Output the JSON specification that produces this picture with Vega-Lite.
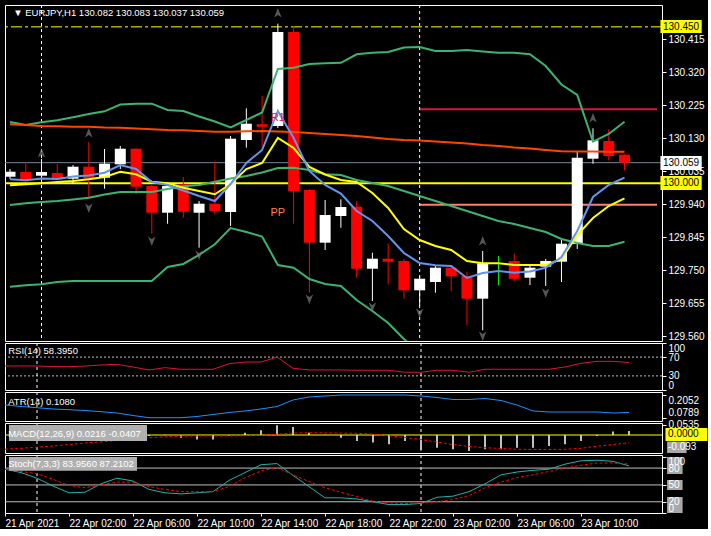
{
"$schema":"https://vega.github.io/schema/vega-lite/v6.json",
"background":"#000000",
"padding":{"left":3,"top":4,"right":0,"bottom":0},
"bounds":"flush",
"spacing":2,
"config":{"view":{"stroke":"#ffffff","strokeWidth":1},"axis":{"labelColor":"#ffffff","labelFont":"Liberation Sans","labelFontSize":10,"tickColor":"#ffffff","tickSize":4,"domain":false,"grid":false,"labelPadding":2},"text":{"font":"Liberation Sans"}},
"datasets":{
"bars":[
{"k":0,"t":"21 Apr 22:00","o":130.0186,"h":130.0408,"l":130.012,"c":130.033,"ema":130.1695,"bbu":130.1761,"bbm":129.9372,"bbl":129.702,"fast":130.0112,"slow":129.9939,"rsi":51.1,"atr":0.1496,"macd":-0.004,"sig":-0.075,"stk":78,"std":78},
{"k":1,"t":"21 Apr 23:00","o":130.0322,"h":130.061,"l":130.0091,"c":130.0112,"ema":130.1675,"bbu":130.1675,"bbm":129.9421,"bbl":129.706,"fast":130.0083,"slow":129.9968,"rsi":51.1,"atr":0.1412,"macd":-0.0316,"sig":-0.07,"stk":72,"std":74},
{"k":2,"t":"22 Apr 00:00","o":130.0215,"h":130.0696,"l":130.0149,"c":130.0322,"ema":130.1646,"bbu":130.1755,"bbm":129.9458,"bbl":129.7089,"fast":130.0135,"slow":129.9997,"rsi":51,"atr":0.1345,"macd":-0.002,"sig":-0.064,"stk":62,"std":70},
{"k":3,"t":"22 Apr 01:00","o":130.0293,"h":130.0552,"l":130.0091,"c":130.0112,"ema":130.1637,"bbu":130.181,"bbm":129.9487,"bbl":129.7155,"fast":130.012,"slow":130.0034,"rsi":50,"atr":0.1273,"macd":0.002,"sig":-0.058,"stk":48,"std":60},
{"k":4,"t":"22 Apr 02:00","o":130.0129,"h":130.0523,"l":129.9976,"c":130.0474,"ema":130.1626,"bbu":130.1896,"bbm":129.953,"bbl":129.7184,"fast":130.0192,"slow":130.0063,"rsi":49.6,"atr":0.1234,"macd":-0.003,"sig":-0.05,"stk":36,"std":49},
{"k":5,"t":"22 Apr 03:00","o":130.0474,"h":130.1185,"l":129.9582,"c":130.0129,"ema":130.1626,"bbu":130.1991,"bbm":129.9582,"bbl":129.7184,"fast":130.0221,"slow":130.0112,"rsi":51,"atr":0.119,"macd":0.003,"sig":-0.042,"stk":37,"std":45},
{"k":6,"t":"22 Apr 04:00","o":130.0158,"h":130.0984,"l":129.9841,"c":130.0561,"ema":130.1603,"bbu":130.2069,"bbm":129.9674,"bbl":129.7184,"fast":130.0302,"slow":130.0178,"rsi":53.2,"atr":0.1123,"macd":-0.002,"sig":-0.036,"stk":52,"std":50},
{"k":7,"t":"22 Apr 05:00","o":130.0543,"h":130.107,"l":130.0408,"c":130.0992,"ema":130.1597,"bbu":130.2265,"bbm":129.9746,"bbl":129.7184,"fast":130.0523,"slow":130.0331,"rsi":54.6,"atr":0.105,"macd":0.004,"sig":-0.029,"stk":62,"std":55},
{"k":8,"t":"22 Apr 06:00","o":130.0992,"h":130.1012,"l":129.9688,"c":129.9899,"ema":130.1574,"bbu":130.2288,"bbm":129.9746,"bbl":129.7184,"fast":130.0408,"slow":130.0256,"rsi":49,"atr":0.0911,"macd":-0.003,"sig":-0.02,"stk":57,"std":55},
{"k":9,"t":"22 Apr 07:00","o":129.9919,"h":129.9948,"l":129.8546,"c":129.915,"ema":130.1551,"bbu":130.2288,"bbm":129.9746,"bbl":129.7184,"fast":130.0034,"slow":130.0043,"rsi":42.6,"atr":0.0789,"macd":-0.005,"sig":-0.014,"stk":42,"std":47},
{"k":10,"t":"22 Apr 08:00","o":129.915,"h":129.9976,"l":129.8833,"c":129.9919,"ema":130.1531,"bbu":130.2106,"bbm":129.9832,"bbl":129.7587,"fast":129.9948,"slow":129.9997,"rsi":47.5,"atr":0.0789,"macd":0.002,"sig":-0.01,"stk":36,"std":42},
{"k":11,"t":"22 Apr 09:00","o":129.9968,"h":130.0178,"l":129.9006,"c":129.9179,"ema":130.1522,"bbu":130.2078,"bbm":129.991,"bbl":129.7674,"fast":129.9789,"slow":129.987,"rsi":44.1,"atr":0.0789,"macd":-0.014,"sig":-0.006,"stk":34,"std":38},
{"k":12,"t":"22 Apr 10:00","o":129.915,"h":129.9487,"l":129.8143,"c":129.9409,"ema":130.1502,"bbu":130.1919,"bbm":129.9948,"bbl":129.7933,"fast":129.9631,"slow":129.9775,"rsi":44.1,"atr":0.0856,"macd":-0.023,"sig":-0.005,"stk":36,"std":38},
{"k":13,"t":"22 Apr 11:00","o":129.9409,"h":130.061,"l":129.9104,"c":129.9199,"ema":130.1482,"bbu":130.1775,"bbm":130.0043,"bbl":129.8241,"fast":129.9487,"slow":129.968,"rsi":44.1,"atr":0.0967,"macd":-0.023,"sig":-0.005,"stk":38,"std":38},
{"k":14,"t":"22 Apr 12:00","o":129.917,"h":130.1358,"l":129.8767,"c":130.128,"ema":130.1482,"bbu":130.1603,"bbm":130.0135,"bbl":129.871,"fast":129.9976,"slow":129.9976,"rsi":55.9,"atr":0.1078,"macd":-0.003,"sig":-0.005,"stk":58,"std":47},
{"k":15,"t":"22 Apr 13:00","o":130.1243,"h":130.2155,"l":130.1021,"c":130.1712,"ema":130.1493,"bbu":130.1819,"bbm":130.0207,"bbl":129.8595,"fast":130.0581,"slow":130.0408,"rsi":59.5,"atr":0.1162,"macd":0.012,"sig":-0.004,"stk":72,"std":63},
{"k":16,"t":"22 Apr 14:00","o":130.1695,"h":130.2509,"l":130.1021,"c":130.1626,"ema":130.1502,"bbu":130.2034,"bbm":130.0307,"bbl":129.8465,"fast":130.0955,"slow":130.0581,"rsi":59.5,"atr":0.1273,"macd":0.025,"sig":-0.002,"stk":86,"std":75},
{"k":17,"t":"22 Apr 15:00","o":130.1646,"h":130.4591,"l":130.1588,"c":130.4352,"ema":130.1487,"bbu":130.3287,"bbm":130.0437,"bbl":129.7645,"fast":130.2078,"slow":130.1301,"rsi":70,"atr":0.1412,"macd":0.051,"sig":0.004,"stk":88,"std":81},
{"k":18,"t":"22 Apr 16:00","o":130.4352,"h":130.4524,"l":129.8833,"c":129.9775,"ema":130.1473,"bbu":130.3324,"bbm":130.0446,"bbl":129.7567,"fast":130.1301,"slow":130.1013,"rsi":46.2,"atr":0.1774,"macd":0.042,"sig":0.01,"stk":67,"std":68},
{"k":19,"t":"22 Apr 17:00","o":129.9804,"h":129.9833,"l":129.6847,"c":129.8287,"ema":130.1444,"bbu":130.3431,"bbm":130.0379,"bbl":129.7242,"fast":130.0351,"slow":130.0466,"rsi":42.6,"atr":0.1941,"macd":0.012,"sig":0.012,"stk":47,"std":56},
{"k":20,"t":"22 Apr 18:00","o":129.8287,"h":129.9516,"l":129.8077,"c":129.9084,"ema":130.1416,"bbu":130.3451,"bbm":130.0256,"bbl":129.7098,"fast":129.9948,"slow":130.025,"rsi":42.6,"atr":0.1996,"macd":0.002,"sig":0.011,"stk":27,"std":45},
{"k":21,"t":"22 Apr 19:00","o":129.9055,"h":129.9536,"l":129.8718,"c":129.9314,"ema":130.1387,"bbu":130.3465,"bbm":130.0235,"bbl":129.704,"fast":129.9703,"slow":130.0091,"rsi":42.6,"atr":0.2052,"macd":-0.014,"sig":0.01,"stk":27,"std":37},
{"k":22,"t":"22 Apr 20:00","o":129.9323,"h":129.9487,"l":129.7279,"c":129.7538,"ema":130.1358,"bbu":130.371,"bbm":130.0091,"bbl":129.6637,"fast":129.9199,"slow":130.0034,"rsi":42,"atr":0.2052,"macd":-0.032,"sig":0.009,"stk":25,"std":29},
{"k":23,"t":"22 Apr 21:00","o":129.7538,"h":129.7999,"l":129.6608,"c":129.7826,"ema":130.1315,"bbu":130.3756,"bbm":130.0005,"bbl":129.6321,"fast":129.8911,"slow":129.9717,"rsi":42,"atr":0.2052,"macd":-0.04,"sig":0.005,"stk":20,"std":21},
{"k":24,"t":"22 Apr 22:00","o":129.7826,"h":129.8258,"l":129.7089,"c":129.774,"ema":130.1272,"bbu":130.3776,"bbm":129.9919,"bbl":129.5975,"fast":129.8479,"slow":129.9286,"rsi":42,"atr":0.2052,"macd":-0.049,"sig":-0.004,"stk":15,"std":18},
{"k":25,"t":"22 Apr 23:00","o":129.776,"h":129.7817,"l":129.6675,"c":129.6916,"ema":130.1243,"bbu":130.3906,"bbm":129.9775,"bbl":129.5515,"fast":129.799,"slow":129.8681,"rsi":37.8,"atr":0.2052,"macd":-0.032,"sig":-0.013,"stk":15,"std":17},
{"k":26,"t":"23 Apr 00:00","o":129.6916,"h":129.7328,"l":129.6465,"c":129.725,"ema":130.1229,"bbu":130.392,"bbm":129.9631,"bbl":129.5112,"fast":129.7702,"slow":129.8364,"rsi":37.8,"atr":0.1996,"macd":-0.081,"sig":-0.024,"stk":17,"std":18},
{"k":27,"t":"23 Apr 01:00","o":129.7155,"h":129.7645,"l":129.6847,"c":129.7567,"ema":130.12,"bbu":130.3805,"bbm":129.9487,"bbl":null,"fast":129.7636,"slow":129.8192,"rsi":42,"atr":0.1913,"macd":-0.067,"sig":-0.037,"stk":28,"std":20},
{"k":28,"t":"23 Apr 02:00","o":129.7567,"h":129.7616,"l":129.6896,"c":129.7319,"ema":130.1171,"bbu":130.3805,"bbm":129.9343,"bbl":null,"fast":129.7616,"slow":129.8077,"rsi":42,"atr":0.1802,"macd":-0.075,"sig":-0.05,"stk":30,"std":24},
{"k":29,"t":"23 Apr 03:00","o":129.7328,"h":129.7452,"l":129.5918,"c":129.6675,"ema":130.1142,"bbu":130.3834,"bbm":129.9199,"bbl":null,"fast":129.7271,"slow":129.776,"rsi":37.8,"atr":0.1802,"macd":-0.084,"sig":-0.06,"stk":38,"std":31},
{"k":30,"t":"23 Apr 04:00","o":129.6675,"h":129.8048,"l":129.5765,"c":129.7694,"ema":130.1099,"bbu":130.379,"bbm":129.9055,"bbl":null,"fast":129.7415,"slow":129.7694,"rsi":44.1,"atr":0.1857,"macd":-0.075,"sig":-0.067,"stk":52,"std":45},
{"k":31,"t":"23 Apr 05:00","o":129.7501,"h":129.7904,"l":129.706,"c":129.7501,"ema":130.107,"bbu":130.3756,"bbm":129.8911,"bbl":null,"fast":129.7472,"slow":129.7694,"rsi":44.1,"atr":0.1746,"macd":-0.075,"sig":-0.071,"stk":68,"std":55},
{"k":32,"t":"23 Apr 06:00","o":129.776,"h":129.797,"l":129.7184,"c":129.725,"ema":130.1027,"bbu":130.3756,"bbm":129.8825,"bbl":null,"fast":129.7423,"slow":129.7645,"rsi":44.1,"atr":0.1496,"macd":-0.067,"sig":-0.075,"stk":73,"std":63},
{"k":33,"t":"23 Apr 07:00","o":129.7279,"h":129.7674,"l":129.7069,"c":129.7567,"ema":130.0998,"bbu":130.371,"bbm":129.871,"bbl":null,"fast":129.7458,"slow":129.7645,"rsi":44.1,"atr":0.1162,"macd":-0.067,"sig":-0.076,"stk":76,"std":68},
{"k":34,"t":"23 Apr 08:00","o":129.7596,"h":129.7817,"l":129.704,"c":129.776,"ema":130.0955,"bbu":130.3373,"bbm":129.8595,"bbl":null,"fast":129.7567,"slow":129.7645,"rsi":44.1,"atr":0.1106,"macd":-0.058,"sig":-0.076,"stk":78,"std":74},
{"k":35,"t":"23 Apr 09:00","o":129.774,"h":129.8393,"l":129.7155,"c":129.8258,"ema":130.092,"bbu":130.284,"bbm":129.8393,"bbl":null,"fast":129.7875,"slow":129.7809,"rsi":49,"atr":0.1106,"macd":-0.049,"sig":-0.075,"stk":87,"std":80},
{"k":36,"t":"23 Apr 10:00","o":129.8249,"h":130.0926,"l":129.8105,"c":130.0733,"ema":130.0912,"bbu":130.2538,"bbm":129.8278,"bbl":null,"fast":129.8624,"slow":129.8508,"rsi":56.7,"atr":0.1106,"macd":-0.032,"sig":-0.07,"stk":93,"std":85},
{"k":37,"t":"23 Apr 11:00","o":130.0705,"h":130.158,"l":130.0561,"c":130.1234,"ema":130.0912,"bbu":130.1194,"bbm":129.8192,"bbl":null,"fast":129.9602,"slow":129.8998,"rsi":61,"atr":0.1106,"macd":-0.005,"sig":-0.059,"stk":94,"std":89},
{"k":38,"t":"23 Apr 12:00","o":130.1214,"h":130.1551,"l":130.0659,"c":130.0782,"ema":130.0906,"bbu":130.1416,"bbm":129.8192,"bbl":null,"fast":129.9948,"slow":129.9343,"rsi":61,"atr":0.105,"macd":0.018,"sig":-0.05,"stk":92,"std":89},
{"k":39,"t":"23 Apr 13:00","o":130.082,"h":130.083,"l":130.037,"c":130.059,"ema":130.0906,"bbu":130.177,"bbm":129.8316,"bbl":null,"fast":130.0158,"slow":129.9565,"rsi":58.395,"atr":0.108,"macd":0.0216,"sig":-0.0407,"stk":83.956,"std":87.2102}
],
"fr":[
{"k":2,"p":130.0869,"dir":"up"},{"k":5,"p":130.1444,"dir":"up"},{"k":17,"p":130.4899,"dir":"up"},{"k":30,"p":129.8336,"dir":"up"},{"k":37,"p":130.1876,"dir":"up"},
{"k":5,"p":129.9286,"dir":"down"},{"k":9,"p":129.8336,"dir":"down"},{"k":12,"p":129.7933,"dir":"down"},{"k":19,"p":129.6666,"dir":"down"},{"k":23,"p":129.6436,"dir":"down"},{"k":26,"p":129.6263,"dir":"down"},{"k":30,"p":129.5601,"dir":"down"},{"k":34,"p":129.6839,"dir":"down"}
]
},
"vconcat":[
{
"width":657,"height":336,
"data":{"name":"bars"},
"layer":[
{"data":{"values":[{}]},"mark":{"type":"rule","color":"#ffff00","strokeWidth":1,"strokeDash":[11,3,3,3]},"encoding":{"y":{"datum":130.45,"type":"quantitative","scale":{"domain":[129.5457,130.5129],"nice":false,"zero":false},"axis":{"orient":"right","values":[129.56,129.655,129.75,129.845,129.94,130.035,130.13,130.225,130.32,130.415],"format":".3f","title":null}}}},
{"data":{"values":[{}]},"mark":{"type":"rule","color":"#778899","strokeWidth":1},"encoding":{"y":{"datum":130.059,"type":"quantitative","scale":{"domain":[129.5457,130.5129],"nice":false,"zero":false},"axis":{"orient":"right","values":[129.56,129.655,129.75,129.845,129.94,130.035,130.13,130.225,130.32,130.415],"format":".3f","title":null}}}},
{"data":{"values":[{}]},"mark":{"type":"rule","color":"#ffff00","strokeWidth":2},"encoding":{"y":{"datum":130.0,"type":"quantitative","scale":{"domain":[129.5457,130.5129],"nice":false,"zero":false},"axis":{"orient":"right","values":[129.56,129.655,129.75,129.845,129.94,130.035,130.13,130.225,130.32,130.415],"format":".3f","title":null}}}},
{"data":{"values":[{}]},"mark":{"type":"rule","color":"#dc143c","strokeWidth":2,"clip":true},"encoding":{"x":{"datum":26,"type":"quantitative","scale":{"domain":[0,41.0625],"nice":false,"zero":false},"axis":null},"x2":{"datum":41.0625},"y":{"datum":130.213,"type":"quantitative","scale":{"domain":[129.5457,130.5129],"nice":false,"zero":false},"axis":{"orient":"right","values":[129.56,129.655,129.75,129.845,129.94,130.035,130.13,130.225,130.32,130.415],"format":".3f","title":null}}}},
{"data":{"values":[{}]},"mark":{"type":"rule","color":"#fa8072","strokeWidth":2,"clip":true},"encoding":{"x":{"datum":26,"type":"quantitative","scale":{"domain":[0,41.0625],"nice":false,"zero":false},"axis":null},"x2":{"datum":41.0625},"y":{"datum":129.938,"type":"quantitative","scale":{"domain":[129.5457,130.5129],"nice":false,"zero":false},"axis":{"orient":"right","values":[129.56,129.655,129.75,129.845,129.94,130.035,130.13,130.225,130.32,130.415],"format":".3f","title":null}}}},
{"data":{"values":[{}]},"mark":{"type":"rule","color":"#ffffff","strokeWidth":1,"strokeDash":[3,3]},"encoding":{"x":{"datum":2,"type":"quantitative","scale":{"domain":[0,41.0625],"nice":false,"zero":false},"axis":null}}},
{"data":{"values":[{}]},"mark":{"type":"rule","color":"#ffffff","strokeWidth":1,"strokeDash":[3,3]},"encoding":{"x":{"datum":26,"type":"quantitative","scale":{"domain":[0,41.0625],"nice":false,"zero":false},"axis":null}}},
{"mark":{"type":"rule","strokeWidth":1,"clip":true},"encoding":{"x":{"field":"k","type":"quantitative","scale":{"domain":[0,41.0625],"nice":false,"zero":false},"axis":null},"y":{"field":"l","type":"quantitative","scale":{"domain":[129.5457,130.5129],"nice":false,"zero":false},"axis":{"orient":"right","values":[129.56,129.655,129.75,129.845,129.94,130.035,130.13,130.225,130.32,130.415],"format":".3f","title":null}},"y2":{"field":"h"},"color":{"condition":[{"test":"datum.c > datum.o","value":"#ffffff"},{"test":"datum.c == datum.o","value":"#00ff00"}],"value":"#ff0000"}}},
{"mark":{"type":"bar","size":11,"clip":true},"encoding":{"x":{"field":"k","type":"quantitative","scale":{"domain":[0,41.0625],"nice":false,"zero":false},"axis":null},"y":{"field":"o","type":"quantitative","scale":{"domain":[129.5457,130.5129],"nice":false,"zero":false},"axis":{"orient":"right","values":[129.56,129.655,129.75,129.845,129.94,130.035,130.13,130.225,130.32,130.415],"format":".3f","title":null}},"y2":{"field":"c"},"color":{"condition":[{"test":"datum.c > datum.o","value":"#ffffff"},{"test":"datum.c == datum.o","value":"#00ff00"}],"value":"#ff0000"}}},
{"mark":{"type":"line","color":"#3cb371","strokeWidth":2,"clip":true},"encoding":{"x":{"field":"k","type":"quantitative","scale":{"domain":[0,41.0625],"nice":false,"zero":false},"axis":null},"y":{"field":"bbu","type":"quantitative","scale":{"domain":[129.5457,130.5129],"nice":false,"zero":false},"axis":{"orient":"right","values":[129.56,129.655,129.75,129.845,129.94,130.035,130.13,130.225,130.32,130.415],"format":".3f","title":null}}}},
{"mark":{"type":"line","color":"#3cb371","strokeWidth":2,"clip":true},"encoding":{"x":{"field":"k","type":"quantitative","scale":{"domain":[0,41.0625],"nice":false,"zero":false},"axis":null},"y":{"field":"bbm","type":"quantitative","scale":{"domain":[129.5457,130.5129],"nice":false,"zero":false},"axis":{"orient":"right","values":[129.56,129.655,129.75,129.845,129.94,130.035,130.13,130.225,130.32,130.415],"format":".3f","title":null}}}},
{"mark":{"type":"line","color":"#3cb371","strokeWidth":2,"clip":true},"encoding":{"x":{"field":"k","type":"quantitative","scale":{"domain":[0,41.0625],"nice":false,"zero":false},"axis":null},"y":{"field":"bbl","type":"quantitative","scale":{"domain":[129.5457,130.5129],"nice":false,"zero":false},"axis":{"orient":"right","values":[129.56,129.655,129.75,129.845,129.94,130.035,130.13,130.225,130.32,130.415],"format":".3f","title":null}}}},
{"mark":{"type":"line","color":"#ff4500","strokeWidth":2,"clip":true},"encoding":{"x":{"field":"k","type":"quantitative","scale":{"domain":[0,41.0625],"nice":false,"zero":false},"axis":null},"y":{"field":"ema","type":"quantitative","scale":{"domain":[129.5457,130.5129],"nice":false,"zero":false},"axis":{"orient":"right","values":[129.56,129.655,129.75,129.845,129.94,130.035,130.13,130.225,130.32,130.415],"format":".3f","title":null}}}},
{"mark":{"type":"line","color":"#ffff00","strokeWidth":2,"clip":true},"encoding":{"x":{"field":"k","type":"quantitative","scale":{"domain":[0,41.0625],"nice":false,"zero":false},"axis":null},"y":{"field":"slow","type":"quantitative","scale":{"domain":[129.5457,130.5129],"nice":false,"zero":false},"axis":{"orient":"right","values":[129.56,129.655,129.75,129.845,129.94,130.035,130.13,130.225,130.32,130.415],"format":".3f","title":null}}}},
{"mark":{"type":"line","color":"#6495ed","strokeWidth":2,"clip":true},"encoding":{"x":{"field":"k","type":"quantitative","scale":{"domain":[0,41.0625],"nice":false,"zero":false},"axis":null},"y":{"field":"fast","type":"quantitative","scale":{"domain":[129.5457,130.5129],"nice":false,"zero":false},"axis":{"orient":"right","values":[129.56,129.655,129.75,129.845,129.94,130.035,130.13,130.225,130.32,130.415],"format":".3f","title":null}}}},
{"data":{"name":"fr"},"transform":[{"filter":"datum.dir == 'up'"}],"mark":{"type":"point","shape":"M0,-1L0.75,0.9L0,0.4L-0.75,0.9Z","filled":true,"size":100,"color":"#7a7a7a","clip":true},"encoding":{"x":{"field":"k","type":"quantitative","scale":{"domain":[0,41.0625],"nice":false,"zero":false},"axis":null},"y":{"field":"p","type":"quantitative","scale":{"domain":[129.5457,130.5129],"nice":false,"zero":false},"axis":{"orient":"right","values":[129.56,129.655,129.75,129.845,129.94,130.035,130.13,130.225,130.32,130.415],"format":".3f","title":null}}}},
{"data":{"name":"fr"},"transform":[{"filter":"datum.dir == 'down'"}],"mark":{"type":"point","shape":"M0,1L0.75,-0.9L0,-0.4L-0.75,-0.9Z","filled":true,"size":100,"color":"#7a7a7a","clip":true},"encoding":{"x":{"field":"k","type":"quantitative","scale":{"domain":[0,41.0625],"nice":false,"zero":false},"axis":null},"y":{"field":"p","type":"quantitative","scale":{"domain":[129.5457,130.5129],"nice":false,"zero":false},"axis":{"orient":"right","values":[129.56,129.655,129.75,129.845,129.94,130.035,130.13,130.225,130.32,130.415],"format":".3f","title":null}}}},
{"data":{"values":[{}]},"mark":{"type":"text","text":"▼ EURJPY,H1  130.082 130.083 130.037 130.059","color":"#ffffff","fontSize":9.5,"align":"left","baseline":"middle"},"encoding":{"x":{"datum":0.2,"type":"quantitative","scale":{"domain":[0,41.0625],"nice":false,"zero":false},"axis":null},"y":{"datum":130.4899,"type":"quantitative","scale":{"domain":[129.5457,130.5129],"nice":false,"zero":false},"axis":{"orient":"right","values":[129.56,129.655,129.75,129.845,129.94,130.035,130.13,130.225,130.32,130.415],"format":".3f","title":null}}}},
{"data":{"values":[{}]},"mark":{"type":"text","text":"R1","color":"#dc143c","fontSize":11,"align":"center","baseline":"middle"},"encoding":{"x":{"datum":17,"type":"quantitative","scale":{"domain":[0,41.0625],"nice":false,"zero":false},"axis":null},"y":{"datum":130.188,"type":"quantitative","scale":{"domain":[129.5457,130.5129],"nice":false,"zero":false},"axis":{"orient":"right","values":[129.56,129.655,129.75,129.845,129.94,130.035,130.13,130.225,130.32,130.415],"format":".3f","title":null}}}},
{"data":{"values":[{}]},"mark":{"type":"text","text":"PP","color":"#ff7f50","fontSize":11,"align":"center","baseline":"middle"},"encoding":{"x":{"datum":17,"type":"quantitative","scale":{"domain":[0,41.0625],"nice":false,"zero":false},"axis":null},"y":{"datum":129.914,"type":"quantitative","scale":{"domain":[129.5457,130.5129],"nice":false,"zero":false},"axis":{"orient":"right","values":[129.56,129.655,129.75,129.845,129.94,130.035,130.13,130.225,130.32,130.415],"format":".3f","title":null}}}},
{"data":{"values":[{}]},"mark":{"type":"rect","color":"#ffff00"},"encoding":{"x":{"datum":41.28,"type":"quantitative","scale":{"domain":[0,41.0625],"nice":false,"zero":false},"axis":null},"x2":{"datum":43.9},"y":{"datum":130.4697,"type":"quantitative","scale":{"domain":[129.5457,130.5129],"nice":false,"zero":false},"axis":{"orient":"right","values":[129.56,129.655,129.75,129.845,129.94,130.035,130.13,130.225,130.32,130.415],"format":".3f","title":null}},"y2":{"datum":130.4323}}},
{"data":{"values":[{}]},"mark":{"type":"rect","color":"#ffffff"},"encoding":{"x":{"datum":41.28,"type":"quantitative","scale":{"domain":[0,41.0625],"nice":false,"zero":false},"axis":null},"x2":{"datum":43.9},"y":{"datum":130.0782,"type":"quantitative","scale":{"domain":[129.5457,130.5129],"nice":false,"zero":false},"axis":{"orient":"right","values":[129.56,129.655,129.75,129.845,129.94,130.035,130.13,130.225,130.32,130.415],"format":".3f","title":null}},"y2":{"datum":130.0379}}},
{"data":{"values":[{}]},"mark":{"type":"rect","color":"#ffff00"},"encoding":{"x":{"datum":41.28,"type":"quantitative","scale":{"domain":[0,41.0625],"nice":false,"zero":false},"axis":null},"x2":{"datum":43.9},"y":{"datum":130.0207,"type":"quantitative","scale":{"domain":[129.5457,130.5129],"nice":false,"zero":false},"axis":{"orient":"right","values":[129.56,129.655,129.75,129.845,129.94,130.035,130.13,130.225,130.32,130.415],"format":".3f","title":null}},"y2":{"datum":129.9804}}},
{"data":{"values":[{"lab":"130.450","p":130.45},{"lab":"130.059","p":130.059},{"lab":"130.000","p":130.0}]},"mark":{"type":"text","color":"#000000","fontSize":10,"align":"left","baseline":"middle"},"encoding":{"x":{"datum":41.44,"type":"quantitative","scale":{"domain":[0,41.0625],"nice":false,"zero":false},"axis":null},"y":{"field":"p","type":"quantitative","scale":{"domain":[129.5457,130.5129],"nice":false,"zero":false},"axis":{"orient":"right","values":[129.56,129.655,129.75,129.845,129.94,130.035,130.13,130.225,130.32,130.415],"format":".3f","title":null}},"text":{"field":"lab"}}}
]
},
{
"width":657,"height":47,
"data":{"name":"bars"},
"layer":[
{"data":{"values":[{}]},"mark":{"type":"rule","color":"#c0c0c0","strokeWidth":1,"strokeDash":[2,2]},"encoding":{"y":{"datum":70,"type":"quantitative","scale":{"domain":[0,100],"nice":false,"zero":false},"axis":{"orient":"right","values":[0,30,70,100],"labelFlush":true,"labelOverlap":false,"title":null}}}},
{"data":{"values":[{}]},"mark":{"type":"rule","color":"#c0c0c0","strokeWidth":1,"strokeDash":[2,2]},"encoding":{"y":{"datum":30,"type":"quantitative","scale":{"domain":[0,100],"nice":false,"zero":false},"axis":{"orient":"right","values":[0,30,70,100],"labelFlush":true,"labelOverlap":false,"title":null}}}},
{"data":{"values":[{}]},"mark":{"type":"rule","color":"#ffffff","strokeWidth":1,"strokeDash":[3,3]},"encoding":{"x":{"datum":2,"type":"quantitative","scale":{"domain":[0,41.0625],"nice":false,"zero":false},"axis":null}}},
{"data":{"values":[{}]},"mark":{"type":"rule","color":"#ffffff","strokeWidth":1,"strokeDash":[3,3]},"encoding":{"x":{"datum":26,"type":"quantitative","scale":{"domain":[0,41.0625],"nice":false,"zero":false},"axis":null}}},
{"mark":{"type":"line","color":"#dc143c","strokeWidth":1,"clip":true},"encoding":{"x":{"field":"k","type":"quantitative","scale":{"domain":[0,41.0625],"nice":false,"zero":false},"axis":null},"y":{"field":"rsi","type":"quantitative","scale":{"domain":[0,100],"nice":false,"zero":false},"axis":{"orient":"right","values":[0,30,70,100],"labelFlush":true,"labelOverlap":false,"title":null}}}},
{"data":{"values":[{}]},"mark":{"type":"text","text":"RSI(14) 58.3950","color":"#ffffff","fontSize":9.5,"align":"left","baseline":"middle"},"encoding":{"x":{"datum":0.2,"type":"quantitative","scale":{"domain":[0,41.0625],"nice":false,"zero":false},"axis":null},"y":{"datum":82.6,"type":"quantitative","scale":{"domain":[0,100],"nice":false,"zero":false},"axis":{"orient":"right","values":[0,30,70,100],"labelFlush":true,"labelOverlap":false,"title":null}}}}
]
},
{
"width":657,"height":29,
"data":{"name":"bars"},
"layer":[
{"data":{"values":[{}]},"mark":{"type":"rule","color":"#ffffff","strokeWidth":1,"strokeDash":[3,3]},"encoding":{"x":{"datum":2,"type":"quantitative","scale":{"domain":[0,41.0625],"nice":false,"zero":false},"axis":null}}},
{"data":{"values":[{}]},"mark":{"type":"rule","color":"#ffffff","strokeWidth":1,"strokeDash":[3,3]},"encoding":{"x":{"datum":26,"type":"quantitative","scale":{"domain":[0,41.0625],"nice":false,"zero":false},"axis":null}}},
{"mark":{"type":"line","color":"#1e90ff","strokeWidth":1,"clip":true},"encoding":{"x":{"field":"k","type":"quantitative","scale":{"domain":[0,41.0625],"nice":false,"zero":false},"axis":null},"y":{"field":"atr","type":"quantitative","scale":{"domain":[0.0605,0.2219],"nice":false,"zero":false},"axis":{"orient":"right","values":[0.0789,0.2052],"format":".4f","labelOverlap":false,"title":null,"labelBaseline":{"condition":{"test":"datum.value > 0.15","value":"top"},"value":"bottom"}}}}},
{"data":{"values":[{}]},"mark":{"type":"text","text":"ATR(14) 0.1080","color":"#ffffff","fontSize":9.5,"align":"left","baseline":"middle"},"encoding":{"x":{"datum":0.2,"type":"quantitative","scale":{"domain":[0,41.0625],"nice":false,"zero":false},"axis":null},"y":{"datum":0.1663,"type":"quantitative","scale":{"domain":[0.0605,0.2219],"nice":false,"zero":false},"axis":{"orient":"right","values":[0.0789,0.2052],"format":".4f","labelOverlap":false,"title":null,"labelBaseline":{"condition":{"test":"datum.value > 0.15","value":"top"},"value":"bottom"}}}}}
]
},
{
"width":657,"height":30,
"data":{"name":"bars"},
"layer":[
{"data":{"values":[{}]},"mark":{"type":"rule","color":"#ffffff","strokeWidth":1,"strokeDash":[3,3]},"encoding":{"x":{"datum":2,"type":"quantitative","scale":{"domain":[0,41.0625],"nice":false,"zero":false},"axis":null}}},
{"data":{"values":[{}]},"mark":{"type":"rule","color":"#ffffff","strokeWidth":1,"strokeDash":[3,3]},"encoding":{"x":{"datum":26,"type":"quantitative","scale":{"domain":[0,41.0625],"nice":false,"zero":false},"axis":null}}},
{"mark":{"type":"rule","color":"#c0c0c0","strokeWidth":2,"clip":true},"encoding":{"x":{"field":"k","type":"quantitative","scale":{"domain":[0,41.0625],"nice":false,"zero":false},"axis":null},"y":{"field":"macd","type":"quantitative","scale":{"domain":[-0.0947,0.0632],"nice":false,"zero":false},"axis":{"orient":"right","values":[0.0535],"format":".4f","labelOverlap":false,"title":null}},"y2":{"datum":0}}},
{"data":{"values":[{}]},"mark":{"type":"rule","color":"#ffff00","strokeWidth":1},"encoding":{"y":{"datum":0,"type":"quantitative","scale":{"domain":[-0.0947,0.0632],"nice":false,"zero":false},"axis":{"orient":"right","values":[0.0535],"format":".4f","labelOverlap":false,"title":null}}}},
{"mark":{"type":"line","color":"#ff0000","strokeWidth":1,"strokeDash":[3,2],"clip":true},"encoding":{"x":{"field":"k","type":"quantitative","scale":{"domain":[0,41.0625],"nice":false,"zero":false},"axis":null},"y":{"field":"sig","type":"quantitative","scale":{"domain":[-0.0947,0.0632],"nice":false,"zero":false},"axis":{"orient":"right","values":[0.0535],"format":".4f","labelOverlap":false,"title":null}}}},
{"data":{"values":[{}]},"mark":{"type":"rect","color":"#b0b0b0"},"encoding":{"x":{"datum":0.25,"type":"quantitative","scale":{"domain":[0,41.0625],"nice":false,"zero":false},"axis":null},"x2":{"datum":8.875},"y":{"datum":0.0526,"type":"quantitative","scale":{"domain":[-0.0947,0.0632],"nice":false,"zero":false},"axis":{"orient":"right","values":[0.0535],"format":".4f","labelOverlap":false,"title":null}},"y2":{"datum":-0.0316}}},
{"data":{"values":[{}]},"mark":{"type":"text","text":"MACD(12,26,9) 0.0216 -0.0407","color":"#ffffff","fontSize":9.5,"align":"left","baseline":"middle"},"encoding":{"x":{"datum":0.2,"type":"quantitative","scale":{"domain":[0,41.0625],"nice":false,"zero":false},"axis":null},"y":{"datum":0.0053,"type":"quantitative","scale":{"domain":[-0.0947,0.0632],"nice":false,"zero":false},"axis":{"orient":"right","values":[0.0535],"format":".4f","labelOverlap":false,"title":null}}}},
{"data":{"values":[{}]},"mark":{"type":"rect","color":"#ffff00"},"encoding":{"x":{"datum":41.28,"type":"quantitative","scale":{"domain":[0,41.0625],"nice":false,"zero":false},"axis":null},"x2":{"datum":43.9},"y":{"datum":0.0368,"type":"quantitative","scale":{"domain":[-0.0947,0.0632],"nice":false,"zero":false},"axis":{"orient":"right","values":[0.0535],"format":".4f","labelOverlap":false,"title":null}},"y2":{"datum":-0.0316}}},
{"data":{"values":[{}]},"mark":{"type":"text","text":"0.0000","color":"#000000","fontSize":10,"align":"left","baseline":"middle"},"encoding":{"x":{"datum":41.44,"type":"quantitative","scale":{"domain":[0,41.0625],"nice":false,"zero":false},"axis":null},"y":{"datum":0.0035,"type":"quantitative","scale":{"domain":[-0.0947,0.0632],"nice":false,"zero":false},"axis":{"orient":"right","values":[0.0535],"format":".4f","labelOverlap":false,"title":null}}}},
{"data":{"values":[{}]},"mark":{"type":"rect","color":"#a8a8a8"},"encoding":{"x":{"datum":41.38,"type":"quantitative","scale":{"domain":[0,41.0625],"nice":false,"zero":false},"axis":null},"x2":{"datum":42.6},"y":{"datum":-0.0347,"type":"quantitative","scale":{"domain":[-0.0947,0.0632],"nice":false,"zero":false},"axis":{"orient":"right","values":[0.0535],"format":".4f","labelOverlap":false,"title":null}},"y2":{"datum":-0.0947}}},
{"data":{"values":[{}]},"mark":{"type":"text","text":"-0.093","color":"#ffffff","fontSize":10,"align":"left","baseline":"middle"},"encoding":{"x":{"datum":41.44,"type":"quantitative","scale":{"domain":[0,41.0625],"nice":false,"zero":false},"axis":null},"y":{"datum":-0.0616,"type":"quantitative","scale":{"domain":[-0.0947,0.0632],"nice":false,"zero":false},"axis":{"orient":"right","values":[0.0535],"format":".4f","labelOverlap":false,"title":null}}}}
]
},
{
"width":657,"height":58,
"data":{"name":"bars"},
"layer":[
{"data":{"values":[{}]},"mark":{"type":"rule","color":"#c0c0c0","strokeWidth":1},"encoding":{"y":{"datum":80,"type":"quantitative","scale":{"domain":[0,103.3],"nice":false,"zero":false},"axis":{"orient":"right","zindex":1,"values":[0,20,50,80,100],"labelOverlap":false,"title":null,"labelBaseline":{"condition":[{"test":"datum.value == 100","value":"top"},{"test":"datum.value == 0","value":"bottom"}],"value":"middle"}}}}},
{"data":{"values":[{}]},"mark":{"type":"rule","color":"#c0c0c0","strokeWidth":1},"encoding":{"y":{"datum":50,"type":"quantitative","scale":{"domain":[0,103.3],"nice":false,"zero":false},"axis":{"orient":"right","zindex":1,"values":[0,20,50,80,100],"labelOverlap":false,"title":null,"labelBaseline":{"condition":[{"test":"datum.value == 100","value":"top"},{"test":"datum.value == 0","value":"bottom"}],"value":"middle"}}}}},
{"data":{"values":[{}]},"mark":{"type":"rule","color":"#c0c0c0","strokeWidth":1},"encoding":{"y":{"datum":20,"type":"quantitative","scale":{"domain":[0,103.3],"nice":false,"zero":false},"axis":{"orient":"right","zindex":1,"values":[0,20,50,80,100],"labelOverlap":false,"title":null,"labelBaseline":{"condition":[{"test":"datum.value == 100","value":"top"},{"test":"datum.value == 0","value":"bottom"}],"value":"middle"}}}}},
{"data":{"values":[{"lo":69.5,"hi":99.7},{"lo":41,"hi":58.8},{"lo":0,"hi":28.5}]},"mark":{"type":"rect","color":"#a8a8a8"},"encoding":{"x":{"datum":41.38,"type":"quantitative","scale":{"domain":[0,41.0625],"nice":false,"zero":false},"axis":{"orient":"bottom","values":[0,4,8,12,16,20,24,28,32,36],"labelExpr":"['21 Apr 2021','22 Apr 02:00','22 Apr 06:00','22 Apr 10:00','22 Apr 14:00','22 Apr 18:00','22 Apr 22:00','23 Apr 02:00','23 Apr 06:00','23 Apr 10:00'][datum.value/4]","labelAlign":"left","labelOverlap":false,"labelBound":false,"tickSize":3,"labelPadding":2,"title":null}},"x2":{"datum":42.35},"y":{"field":"lo","type":"quantitative","scale":{"domain":[0,103.3],"nice":false,"zero":false},"axis":{"orient":"right","zindex":1,"values":[0,20,50,80,100],"labelOverlap":false,"title":null,"labelBaseline":{"condition":[{"test":"datum.value == 100","value":"top"},{"test":"datum.value == 0","value":"bottom"}],"value":"middle"}}},"y2":{"field":"hi"}}},
{"data":{"values":[{}]},"mark":{"type":"rule","color":"#ffffff","strokeWidth":1,"strokeDash":[3,3]},"encoding":{"x":{"datum":2,"type":"quantitative","scale":{"domain":[0,41.0625],"nice":false,"zero":false},"axis":{"orient":"bottom","values":[0,4,8,12,16,20,24,28,32,36],"labelExpr":"['21 Apr 2021','22 Apr 02:00','22 Apr 06:00','22 Apr 10:00','22 Apr 14:00','22 Apr 18:00','22 Apr 22:00','23 Apr 02:00','23 Apr 06:00','23 Apr 10:00'][datum.value/4]","labelAlign":"left","labelOverlap":false,"labelBound":false,"tickSize":3,"labelPadding":2,"title":null}}}},
{"data":{"values":[{}]},"mark":{"type":"rule","color":"#ffffff","strokeWidth":1,"strokeDash":[3,3]},"encoding":{"x":{"datum":26,"type":"quantitative","scale":{"domain":[0,41.0625],"nice":false,"zero":false},"axis":{"orient":"bottom","values":[0,4,8,12,16,20,24,28,32,36],"labelExpr":"['21 Apr 2021','22 Apr 02:00','22 Apr 06:00','22 Apr 10:00','22 Apr 14:00','22 Apr 18:00','22 Apr 22:00','23 Apr 02:00','23 Apr 06:00','23 Apr 10:00'][datum.value/4]","labelAlign":"left","labelOverlap":false,"labelBound":false,"tickSize":3,"labelPadding":2,"title":null}}}},
{"mark":{"type":"line","color":"#20b2aa","strokeWidth":1,"clip":true},"encoding":{"x":{"field":"k","type":"quantitative","scale":{"domain":[0,41.0625],"nice":false,"zero":false},"axis":{"orient":"bottom","values":[0,4,8,12,16,20,24,28,32,36],"labelExpr":"['21 Apr 2021','22 Apr 02:00','22 Apr 06:00','22 Apr 10:00','22 Apr 14:00','22 Apr 18:00','22 Apr 22:00','23 Apr 02:00','23 Apr 06:00','23 Apr 10:00'][datum.value/4]","labelAlign":"left","labelOverlap":false,"labelBound":false,"tickSize":3,"labelPadding":2,"title":null}},"y":{"field":"stk","type":"quantitative","scale":{"domain":[0,103.3],"nice":false,"zero":false},"axis":{"orient":"right","zindex":1,"values":[0,20,50,80,100],"labelOverlap":false,"title":null,"labelBaseline":{"condition":[{"test":"datum.value == 100","value":"top"},{"test":"datum.value == 0","value":"bottom"}],"value":"middle"}}}}},
{"mark":{"type":"line","color":"#ff0000","strokeWidth":1,"strokeDash":[3,2],"clip":true},"encoding":{"x":{"field":"k","type":"quantitative","scale":{"domain":[0,41.0625],"nice":false,"zero":false},"axis":{"orient":"bottom","values":[0,4,8,12,16,20,24,28,32,36],"labelExpr":"['21 Apr 2021','22 Apr 02:00','22 Apr 06:00','22 Apr 10:00','22 Apr 14:00','22 Apr 18:00','22 Apr 22:00','23 Apr 02:00','23 Apr 06:00','23 Apr 10:00'][datum.value/4]","labelAlign":"left","labelOverlap":false,"labelBound":false,"tickSize":3,"labelPadding":2,"title":null}},"y":{"field":"std","type":"quantitative","scale":{"domain":[0,103.3],"nice":false,"zero":false},"axis":{"orient":"right","zindex":1,"values":[0,20,50,80,100],"labelOverlap":false,"title":null,"labelBaseline":{"condition":[{"test":"datum.value == 100","value":"top"},{"test":"datum.value == 0","value":"bottom"}],"value":"middle"}}}}},
{"data":{"values":[{}]},"mark":{"type":"rect","color":"#b0b0b0"},"encoding":{"x":{"datum":0.25,"type":"quantitative","scale":{"domain":[0,41.0625],"nice":false,"zero":false},"axis":{"orient":"bottom","values":[0,4,8,12,16,20,24,28,32,36],"labelExpr":"['21 Apr 2021','22 Apr 02:00','22 Apr 06:00','22 Apr 10:00','22 Apr 14:00','22 Apr 18:00','22 Apr 22:00','23 Apr 02:00','23 Apr 06:00','23 Apr 10:00'][datum.value/4]","labelAlign":"left","labelOverlap":false,"labelBound":false,"tickSize":3,"labelPadding":2,"title":null}},"x2":{"datum":8.25},"y":{"datum":99.8,"type":"quantitative","scale":{"domain":[0,103.3],"nice":false,"zero":false},"axis":{"orient":"right","zindex":1,"values":[0,20,50,80,100],"labelOverlap":false,"title":null,"labelBaseline":{"condition":[{"test":"datum.value == 100","value":"top"},{"test":"datum.value == 0","value":"bottom"}],"value":"middle"}}},"y2":{"datum":75.4}}},
{"data":{"values":[{}]},"mark":{"type":"text","text":"Stoch(7,3,3) 83.9560 87.2102","color":"#ffffff","fontSize":9.5,"align":"left","baseline":"middle"},"encoding":{"x":{"datum":0.2,"type":"quantitative","scale":{"domain":[0,41.0625],"nice":false,"zero":false},"axis":{"orient":"bottom","values":[0,4,8,12,16,20,24,28,32,36],"labelExpr":"['21 Apr 2021','22 Apr 02:00','22 Apr 06:00','22 Apr 10:00','22 Apr 14:00','22 Apr 18:00','22 Apr 22:00','23 Apr 02:00','23 Apr 06:00','23 Apr 10:00'][datum.value/4]","labelAlign":"left","labelOverlap":false,"labelBound":false,"tickSize":3,"labelPadding":2,"title":null}},"y":{"datum":87.6,"type":"quantitative","scale":{"domain":[0,103.3],"nice":false,"zero":false},"axis":{"orient":"right","zindex":1,"values":[0,20,50,80,100],"labelOverlap":false,"title":null,"labelBaseline":{"condition":[{"test":"datum.value == 100","value":"top"},{"test":"datum.value == 0","value":"bottom"}],"value":"middle"}}}}}
]
}
]
}
